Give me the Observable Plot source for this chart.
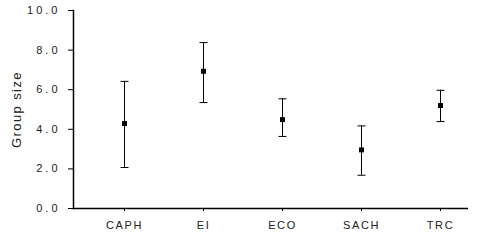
<!DOCTYPE html>
<html>
<head>
<meta charset="utf-8">
<script src="https://cdn.jsdelivr.net/npm/d3@7"></script>
<script src="https://cdn.jsdelivr.net/npm/@observablehq/plot@0.6"></script>
<style>
  html, body { margin: 0; padding: 0; background: #fff; }
  svg text { fill: #222; }
  g[aria-label="y-axis tick label"] text { letter-spacing: 3px; }
  g[aria-label="x-axis tick label"] text { letter-spacing: 1.6px; }
  g[aria-label="text"] text { letter-spacing: 1.4px; }
</style>
</head>
<body>
<div id="chart"></div>
<script>
const categories = ["CAPH", "EI", "ECO", "SACH", "TRC"];
const means = [4.29, 6.93, 4.49, 2.96, 5.20];
const upper = [6.42, 8.38, 5.54, 4.17, 5.97];
const lower = [2.07, 5.35, 3.64, 1.68, 4.39];
const yTicks = [0, 2, 4, 6, 8, 10];
const yLabel = "Group size";

const data = categories.map((c, i) => ({cat: c, mean: means[i], hi: upper[i], lo: lower[i]}));

const capSymbol = {
  draw(ctx, size) {
    const w = Math.sqrt(size / Math.PI);
    ctx.moveTo(-w, 0);
    ctx.lineTo(w, 0);
  }
};

const chart = Plot.plot({
  width: 482,
  height: 241,
  marginLeft: 73,
  marginRight: 14,
  marginTop: 10,
  marginBottom: 33,
  style: {fontFamily: "'Liberation Sans', Arial, sans-serif", fontSize: "11px", color: "#000", background: "#fff"},
  x: {type: "point", domain: categories, padding: 0, insetLeft: 49, insetRight: 27, label: null},
  y: {domain: [0, 10], label: null},
  marks: [
    Plot.axisY({ticks: yTicks, tickFormat: d => d.toFixed(1), tickSize: 5, tickPadding: 8, label: null}),
    Plot.axisX({tickSize: 3, tickPadding: 10, label: null}),
    Plot.text([yLabel], {text: d => d, frameAnchor: "left", textAnchor: "middle", rotate: -90, dx: -57, fontSize: 13, fill: "#222"}),
    Plot.frame({anchor: "left", strokeWidth: 1.5}),
    Plot.ruleY([0], {strokeWidth: 1.5}),
    Plot.ruleX(data, {x: "cat", y1: "lo", y2: "hi", stroke: "black", strokeWidth: 1}),
    Plot.dot(data, {x: "cat", y: "hi", symbol: capSymbol, r: 4, stroke: "black", fill: "none", strokeWidth: 1}),
    Plot.dot(data, {x: "cat", y: "lo", symbol: capSymbol, r: 4, stroke: "black", fill: "none", strokeWidth: 1}),
    Plot.dot(data, {x: "cat", y: "mean", symbol: "square", r: 2.8, fill: "black", stroke: "none"})
  ]
});
document.getElementById("chart").appendChild(chart);
</script>
</body>
</html>
